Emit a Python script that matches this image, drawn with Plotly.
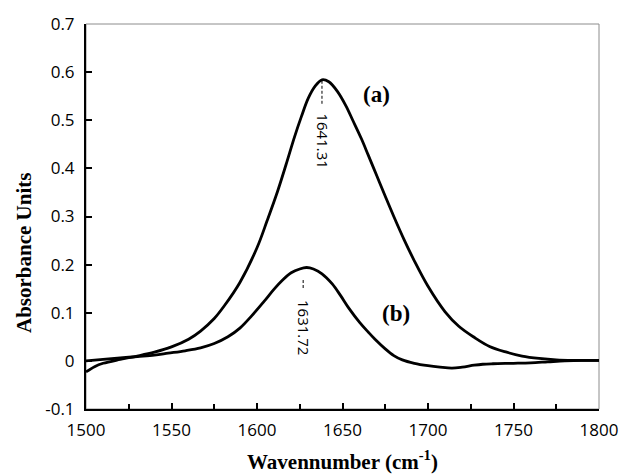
import plotly.graph_objects as go

# ---- data ----
wn_a = [1500, 1505, 1510, 1520, 1530, 1540, 1550, 1560, 1567, 1575, 1581, 1590,
        1600, 1606, 1612, 1617, 1622, 1626, 1630, 1634, 1638, 1642, 1647, 1652,
        1656, 1661, 1665, 1670, 1675, 1680, 1686, 1692, 1700, 1710, 1718, 1727,
        1736, 1746, 1755, 1765, 1775, 1785, 1800]
abs_a = [-0.023, -0.012, -0.005, 0.003, 0.010, 0.018, 0.029, 0.045, 0.062, 0.088, 0.115, 0.163,
         0.235, 0.292, 0.352, 0.408, 0.466, 0.508, 0.546, 0.571, 0.584, 0.580, 0.560, 0.530,
         0.500, 0.462, 0.428, 0.385, 0.342, 0.300, 0.252, 0.208, 0.155, 0.102, 0.072, 0.049,
         0.030, 0.018, 0.010, 0.005, 0.002, 0.001, 0.001]

wn_b = [1500, 1510, 1520, 1530, 1540, 1548, 1558, 1567, 1575, 1583, 1590, 1597,
        1604, 1610, 1615, 1620, 1625, 1629, 1633, 1638, 1644, 1649, 1654, 1660,
        1665, 1669, 1675, 1680, 1685, 1692, 1700, 1707, 1714, 1720, 1727, 1732,
        1738, 1750, 1760, 1770, 1780, 1790, 1800]
abs_b = [0.000, 0.003, 0.006, 0.009, 0.012, 0.016, 0.021, 0.027, 0.036, 0.050, 0.068, 0.094,
         0.123, 0.149, 0.168, 0.183, 0.191, 0.194, 0.191, 0.181, 0.160, 0.135, 0.108, 0.080,
         0.060, 0.045, 0.025, 0.011, 0.002, -0.005, -0.010, -0.013, -0.015, -0.013, -0.009, -0.007,
         -0.006, -0.005, -0.004, -0.002, 0.000, 0.001, 0.001]

x_ticks = [1500, 1550, 1600, 1650, 1700, 1750, 1800]
y_ticks = [-0.1, 0, 0.1, 0.2, 0.3, 0.4, 0.5, 0.6, 0.7]
y_ticktext = ["-0.1", "0", "0.1", "0.2", "0.3", "0.4", "0.5", "0.6", "0.7"]

peak_labels = ["1641.31", "1631.72"]
peak_x = [1638, 1627]
peak_top = [0.582, 0.168]
peak_bottom = [0.534, 0.150]
peak_text_y = [0.458, 0.070]
series_labels = ["(a)", "(b)"]
series_label_x = [1670, 1681]
series_label_y = [0.553, 0.098]

x_title = "<b>Wavennumber (cm<sup>-1</sup>)</b>"
y_title = "<b>Absorbance Units</b>"

fig = go.Figure()
fig.add_trace(go.Scatter(x=wn_a, y=abs_a, mode="lines", line=dict(color="black", width=2.8),
                         line_shape="spline", name="(a)", showlegend=False))
fig.add_trace(go.Scatter(x=wn_b, y=abs_b, mode="lines", line=dict(color="black", width=2.8),
                         line_shape="spline", name="(b)", showlegend=False))
for i in range(2):
    fig.add_trace(go.Scatter(x=[peak_x[i], peak_x[i]], y=[peak_top[i], peak_bottom[i]], mode="lines",
                             line=dict(color="black", width=1, dash="3px,2px"), showlegend=False,
                             hoverinfo="skip"))
    fig.add_annotation(x=peak_x[i] + 0.6, y=peak_text_y[i], text=peak_labels[i], textangle=90,
                       showarrow=False, font=dict(family="Open Sans", size=15, color="black"))
    fig.add_annotation(x=series_label_x[i], y=series_label_y[i], text="<b>%s</b>" % series_labels[i],
                       showarrow=False, font=dict(family="Liberation Serif", size=23, color="black"))

# axis titles
fig.add_annotation(xref="paper", yref="paper", x=0.5, y=-0.135, yanchor="middle", text=x_title,
                   showarrow=False, font=dict(family="Liberation Serif", size=21, color="black"))
fig.add_annotation(xref="paper", yref="paper", x=-0.121, y=0.405, xanchor="center", yanchor="middle",
                   text=y_title, textangle=-90, showarrow=False,
                   font=dict(family="Liberation Serif", size=21, color="black"))

fig.add_shape(type="rect", xref="paper", yref="paper", x0=0, y0=0, x1=1, y1=1,
              line=dict(color="#8c8c8c", width=1), layer="below")

fig.update_layout(
    width=630, height=476,
    margin=dict(l=86, r=23, t=22, b=67),
    paper_bgcolor="white", plot_bgcolor="white",
    font=dict(family="Open Sans", size=17, color="black"),
)
fig.update_xaxes(range=[1500, 1800], tickvals=x_ticks, ticks="inside", ticklen=6, tickwidth=1.5,
                 tickcolor="black", showline=True, linecolor="black", linewidth=2, showgrid=False,
                 zeroline=False, tickfont=dict(family="Open Sans", size=17), ticklabelstandoff=5,
                 minor=dict(dtick=25, ticks="inside", ticklen=5, tickwidth=1.5, tickcolor="black"))
fig.update_yaxes(range=[-0.1, 0.7], tickvals=y_ticks, ticktext=y_ticktext, ticks="inside", ticklen=6,
                 tickwidth=1.5, tickcolor="black", showline=True, linecolor="black", linewidth=2,
                 showgrid=False, zeroline=False, tickfont=dict(family="Open Sans", size=17),
                 ticklabelstandoff=6)

fig.write_html("out.html")
